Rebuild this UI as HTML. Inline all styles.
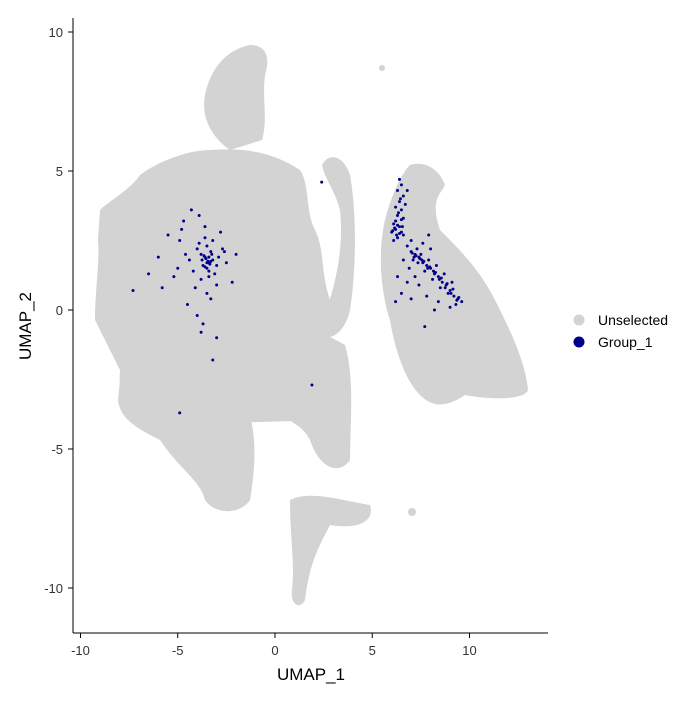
<!DOCTYPE html>
<html><head><meta charset="utf-8"><style>
body{margin:0;background:#fff}
svg text{font-family:"Liberation Sans",sans-serif}
</style></head><body>
<svg id="chart" width="700" height="700" xmlns="http://www.w3.org/2000/svg">
<rect width="700" height="700" fill="#fff"/>
<g fill="#d3d3d3">
<path d="M205,95 C210,70 225,50 250,45 C268,45 270,60 265,75 C262,100 268,120 262,140 L230,150 C215,140 200,120 205,95Z"/>
<path d="M100,210 C110,200 130,190 140,175 C160,160 190,150 210,150 C240,148 270,150 300,170 C310,185 305,210 315,230 C325,250 320,270 330,300 C335,320 320,340 300,350 L260,345 C240,360 230,380 250,400 C230,420 180,420 150,420 C125,420 118,400 120,370 C110,350 100,330 95,320 C95,290 100,260 98,240 Z"/>
<path d="M150,340 L315,320 L330,420 L150,425Z"/>
<path d="M120,380 C150,380 200,390 240,400 C260,420 255,470 250,500 C240,515 215,515 205,500 C200,480 180,470 160,440 C140,430 120,420 118,400Z"/>
<path d="M260,330 C290,320 320,330 345,345 C355,380 350,420 350,460 C340,475 320,470 310,440 C300,420 280,420 260,400 Z"/>
<path d="M322,165 C330,150 345,158 350,175 C358,220 355,280 350,310 C345,335 325,345 320,330 C330,300 345,260 340,210 C335,190 325,180 322,165Z"/>
<path d="M290,500 C310,490 340,500 370,505 C375,520 360,530 330,525 C320,545 310,560 305,600 C300,610 290,605 292,590 C295,560 290,540 290,500Z"/>
<path d="M385,220 C390,200 400,175 410,165 C425,160 440,170 445,185 C440,195 430,200 440,230 C460,250 480,270 495,300 C510,330 525,360 528,390 C525,400 490,400 465,395 C450,405 435,410 420,395 C405,380 395,350 390,320 C380,290 378,250 385,220Z"/>
<circle cx="382" cy="68" r="3"/>
<circle cx="412" cy="512" r="4"/>
</g>
<g id="pts"></g>
<g stroke="#000" fill="none">
<line x1="73" y1="633" x2="548" y2="633"/>
<line x1="73" y1="18" x2="73" y2="633"/>
</g>
<g id="ticks"></g>
<text x="311" y="680" text-anchor="middle" font-size="17">UMAP_1</text>
<text transform="translate(31,326) rotate(-90)" text-anchor="middle" font-size="17">UMAP_2</text>
<g>
<circle cx="579" cy="320" r="5.5" fill="#d3d3d3"/>
<text x="598" y="325" font-size="14">Unselected</text>
<circle cx="579" cy="342" r="5.5" fill="#00008b"/>
<text x="598" y="347" font-size="14">Group_1</text>
</g>
</svg>
<script>
const xTicks=[-10,-5,0,5,10];
const yTicks=[10,5,0,-5,-10];
const leftX=[-3.6,-3.4,-3.8,-3.2,-3.0,-4.0,-3.5,-3.7,-3.3,-2.9,-4.2,-3.9,-3.1,-3.6,-3.4,-4.4,-2.7,-3.8,-3.5,-3.2,-4.6,-5.0,-2.5,-3.0,-4.1,-3.6,-5.5,-4.8,-2.2,-3.3,-3.9,-6.0,-4.5,-2.8,-3.7,-5.2,-3.0,-4.3,-6.5,-2.0,-3.5,-4.0,-5.8,-7.3,-3.2,-4.7,-2.6,-3.4,-4.9,-3.8,2.4,1.9,-4.9,-3.55,-3.45,-3.65,-3.35,-3.75,-3.25,-3.5,-3.6,-3.4,-3.3];
const leftY=[1.9,1.7,2.0,1.8,1.6,2.2,1.5,1.6,2.1,1.9,1.4,2.4,1.3,2.6,1.2,1.8,2.2,1.1,2.3,2.5,2.0,1.5,1.7,0.9,0.8,3.0,2.7,2.9,1.0,0.4,3.4,1.9,0.2,2.8,-0.5,1.2,-1.0,3.6,1.3,2.0,0.6,-0.2,0.8,0.7,-1.8,3.2,2.1,1.4,2.5,-0.8,4.6,-2.7,-3.7,1.85,1.75,1.95,1.65,1.8,2.0,1.7,1.55,1.9,1.75];
const rightX=[6.4,6.5,6.3,6.6,6.4,6.2,6.5,6.3,6.6,6.1,6.4,6.2,6.0,6.5,6.3,6.7,6.8,6.2,6.6,6.1,6.8,7.0,7.2,7.4,7.6,7.8,8.0,8.2,8.4,8.6,8.8,9.0,9.2,9.4,9.6,7.1,7.3,7.5,7.7,7.9,8.1,8.3,8.5,8.7,8.9,9.1,9.3,6.9,7.0,7.6,8.0,7.2,6.8,6.5,6.2,7.4,7.8,8.4,6.6,7.0,6.3,7.9,8.2,7.7,9.0,6.45,6.35,6.55,6.25,7.15,7.35,7.55,7.85,8.15,8.45,8.75,9.05,9.35,6.15,6.05,6.3,6.4,6.5,7.05,7.25,7.45,7.65,7.95,8.25,8.55,8.85,9.15,9.45];
const rightY=[4.7,4.5,4.3,4.1,3.9,3.7,3.6,3.4,3.3,3.1,3.0,2.9,2.8,2.8,2.6,3.8,4.3,3.2,2.7,2.5,2.3,2.1,2.0,1.9,1.7,1.6,1.5,1.3,1.2,1.0,0.9,0.7,0.5,0.4,0.3,1.8,2.2,2.0,1.4,1.8,1.1,1.6,0.8,1.3,0.6,1.0,0.2,1.5,2.5,2.4,2.2,1.2,1.0,0.6,0.3,0.9,0.5,0.3,1.8,0.4,1.2,2.7,0.0,-0.6,0.1,4.0,3.5,3.0,2.7,1.9,1.7,1.8,1.5,1.4,1.1,0.8,0.6,0.35,2.95,2.85,3.05,2.75,3.25,2.05,1.95,1.85,1.75,1.55,1.35,1.15,0.95,0.75,0.45];
const sx=v=>275+v*19.45, sy=v=>310-v*27.8;
const ns="http://www.w3.org/2000/svg";
const t=document.getElementById('ticks');
xTicks.forEach(v=>{
 const l=document.createElementNS(ns,'line');
 
 
 l.setAttribute('x1',sx(v));l.setAttribute('x2',sx(v));l.setAttribute('y1',633);l.setAttribute('y2',638);l.setAttribute('stroke','#000');t.appendChild(l);
 const tx=document.createElementNS(ns,'text');
 
 
 tx.setAttribute('x',sx(v));tx.setAttribute('y',655);tx.setAttribute('text-anchor','middle');tx.setAttribute('font-size','13');tx.setAttribute('fill','#333');tx.textContent=v;t.appendChild(tx);
});
yTicks.forEach(v=>{
 const l=document.createElementNS(ns,'line');
 
 
 l.setAttribute('x1',68);l.setAttribute('x2',73);l.setAttribute('y1',sy(v));l.setAttribute('y2',sy(v));l.setAttribute('stroke','#000');t.appendChild(l);
 const tx=document.createElementNS(ns,'text');
 
 
 tx.setAttribute('x',63);tx.setAttribute('y',sy(v)+5);tx.setAttribute('text-anchor','end');tx.setAttribute('font-size','13');tx.setAttribute('fill','#333');tx.textContent=v;t.appendChild(tx);
});
const g=document.getElementById('pts');
function draw(xs,ys){xs.forEach((x,i)=>{
 const c=document.createElementNS(ns,'circle');
 
 
 c.setAttribute('cx',sx(x));c.setAttribute('cy',sy(ys[i]));c.setAttribute('r',1.5);c.setAttribute('fill','#00008b');g.appendChild(c);
});}
draw(leftX,leftY);draw(rightX,rightY);
</script>
</body></html>
